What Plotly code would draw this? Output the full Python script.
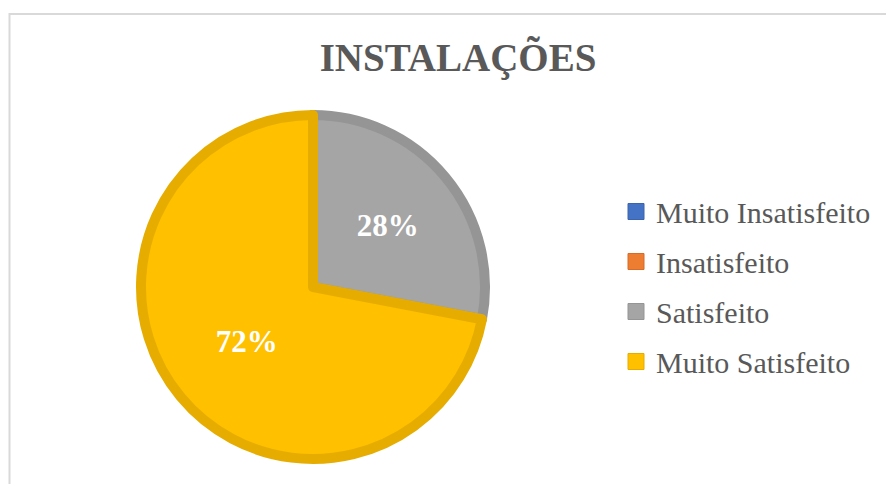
import plotly.graph_objects as go

categories = ["Muito Insatisfeito", "Insatisfeito", "Satisfeito", "Muito Satisfeito"]
values = [0, 0, 28, 72]
fill_colors = ["#4472C4", "#ED7D31", "#A5A5A5", "#FFC000"]
edge_colors = ["#3B64AD", "#D86B28", "#959595", "#E6AD00"]
title_text = "INSTALAÇÕES"

W, H = 894, 484
OFF = 8  # page body margin offset
cx, cy, r = 313 - OFF, 287 - OFF, 172

fig = go.Figure()
fig.add_trace(go.Pie(
    labels=categories, values=values, sort=False, direction="clockwise", rotation=0,
    marker=dict(colors=fill_colors, line=dict(color=edge_colors, width=10)),
    texttemplate="%{percent:.0%}", textposition="inside", insidetextorientation="horizontal",
    textfont=dict(family="Liberation Serif", size=31, color="white", weight="bold"),
    showlegend=False, hoverinfo="label+percent",
    domain=dict(x=[(cx - r) / W, (cx + r) / W], y=[(H - cy - r) / H, (H - cy + r) / H]),
))

for i, (name, fc, ec) in enumerate(zip(categories, fill_colors, edge_colors)):
    fig.add_trace(go.Scatter(
        x=[None], y=[None], mode="markers", name=name, legendgroup=f"g{i}",
        marker=dict(symbol="square", size=16, color=fc, line=dict(color=ec, width=1)),
    ))

fig.update_layout(
    width=W, height=H,
    margin=dict(l=0, r=0, t=0, b=0),
    paper_bgcolor="white", plot_bgcolor="white",
    xaxis=dict(visible=False), yaxis=dict(visible=False),
    title=dict(text=title_text, x=(458 - OFF) / W, xanchor="center", y=1 - (57 - OFF) / H, yanchor="middle",
               font=dict(family="Liberation Serif", size=39, color="#595959", weight="bold")),
    legend=dict(x=608 / W, xanchor="left", y=1 - (286.5 - OFF) / H, yanchor="middle",
                font=dict(family="Liberation Serif", size=30, color="#595959"),
                tracegroupgap=8, itemwidth=30, bgcolor="rgba(0,0,0,0)"),
    shapes=[dict(type="rect", xref="paper", yref="paper",
                 x0=1.5 / W, x1=1.02, y0=-0.05, y1=1 - 6 / H,
                 line=dict(color="#D9D9D9", width=2), fillcolor="rgba(0,0,0,0)", layer="below")],
)

fig.write_html("out.html")
